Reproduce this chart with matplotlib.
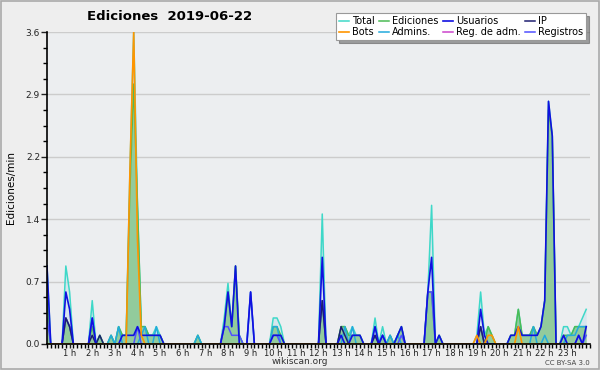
import matplotlib
matplotlib.use("Agg")
import matplotlib.pyplot as plt
import numpy as np
from matplotlib.ticker import MultipleLocator, FixedLocator
from matplotlib.patches import Rectangle

# edits per minute, one value per 10-minute slot (6 per hour, 144 in total)
total = [0.9, 0, 0, 0, 0, 0.9,   0.6, 0, 0, 0, 0, 0,
         0.5, 0, 0.1, 0, 0, 0.1,   0, 0.2, 0.1, 0.1, 2.0, 3.6,
         1.6, 0.2, 0.2, 0.1, 0.1, 0.2,   0.1, 0, 0, 0, 0, 0,
         0, 0, 0, 0, 0.1, 0,   0, 0, 0, 0, 0, 0.3,
         0.7, 0.2, 0.9, 0.1, 0, 0,   0.6, 0, 0, 0, 0, 0,
         0.3, 0.3, 0.2, 0, 0, 0,   0, 0, 0, 0, 0, 0,
         0, 1.5, 0, 0, 0, 0,   0.2, 0.2, 0.1, 0.2, 0.1, 0.1,
         0, 0, 0, 0.3, 0, 0.2,   0, 0.1, 0, 0.1, 0.2, 0,
         0, 0, 0, 0, 0, 0.6,   1.6, 0, 0.1, 0, 0, 0,
         0, 0, 0, 0, 0, 0,   0.1, 0.6, 0.1, 0.2, 0.1, 0,
         0, 0, 0, 0.1, 0.1, 0.4,   0.1, 0.1, 0.1, 0.2, 0.1, 0.2,
         0.5, 2.8, 2.4, 0, 0, 0.2,   0.2, 0.1, 0.2, 0.2, 0.3, 0.4]

ediciones = [0.5, 0, 0, 0, 0, 0.3,   0.2, 0, 0, 0, 0, 0,
             0.2, 0, 0.1, 0, 0, 0.1,   0, 0.2, 0.1, 0.1, 1.8, 3.0,
             1.6, 0.2, 0.2, 0.1, 0.1, 0.1,   0.1, 0, 0, 0, 0, 0,
             0, 0, 0, 0, 0.1, 0,   0, 0, 0, 0, 0, 0.2,
             0.6, 0.2, 0.9, 0.1, 0, 0,   0, 0, 0, 0, 0, 0,
             0.2, 0.2, 0.1, 0, 0, 0,   0, 0, 0, 0, 0, 0,
             0, 0.5, 0, 0, 0, 0,   0.2, 0.2, 0.1, 0.1, 0.1, 0.1,
             0, 0, 0, 0.1, 0, 0.1,   0, 0.1, 0, 0.1, 0.2, 0,
             0, 0, 0, 0, 0, 0.6,   0.6, 0, 0.1, 0, 0, 0,
             0, 0, 0, 0, 0, 0,   0, 0.2, 0, 0.2, 0.1, 0,
             0, 0, 0, 0.1, 0.1, 0.4,   0.1, 0.1, 0.1, 0.2, 0.1, 0.2,
             0.5, 2.7, 2.4, 0, 0, 0.1,   0.1, 0.1, 0.2, 0.2, 0.2, 0.2]

usuarios = [0.9, 0, 0, 0, 0, 0.6,   0.4, 0, 0, 0, 0, 0,
            0.3, 0, 0, 0, 0, 0,   0, 0, 0.1, 0.1, 0.1, 0.1,
            0.2, 0.1, 0.1, 0.1, 0.1, 0.1,   0.1, 0, 0, 0, 0, 0,
            0, 0, 0, 0, 0, 0,   0, 0, 0, 0, 0, 0.2,
            0.6, 0.2, 0.9, 0, 0, 0,   0.6, 0, 0, 0, 0, 0,
            0.1, 0.1, 0.1, 0, 0, 0,   0, 0, 0, 0, 0, 0,
            0, 1.0, 0, 0, 0, 0,   0.1, 0, 0, 0.1, 0.1, 0.1,
            0, 0, 0, 0.2, 0, 0.1,   0, 0, 0, 0.1, 0.2, 0,
            0, 0, 0, 0, 0, 0.6,   1.0, 0, 0.1, 0, 0, 0,
            0, 0, 0, 0, 0, 0,   0, 0.4, 0.1, 0, 0, 0,
            0, 0, 0, 0.1, 0.1, 0.2,   0.1, 0.1, 0.1, 0.1, 0.1, 0.2,
            0.5, 2.8, 2.4, 0, 0, 0.1,   0, 0, 0, 0.1, 0, 0.2]

ip = [0, 0, 0, 0, 0, 0.3,   0.2, 0, 0, 0, 0, 0,
      0.1, 0, 0.1, 0, 0, 0,   0, 0, 0, 0, 0, 0,
      0, 0, 0, 0, 0, 0,   0, 0, 0, 0, 0, 0,
      0, 0, 0, 0, 0, 0,   0, 0, 0, 0, 0, 0,
      0, 0, 0, 0, 0, 0,   0, 0, 0, 0, 0, 0,
      0, 0, 0, 0, 0, 0,   0, 0, 0, 0, 0, 0,
      0, 0.5, 0, 0, 0, 0,   0.2, 0.1, 0, 0, 0, 0,
      0, 0, 0, 0.1, 0, 0,   0, 0, 0, 0, 0, 0,
      0, 0, 0, 0, 0, 0,   0, 0, 0, 0, 0, 0,
      0, 0, 0, 0, 0, 0,   0, 0.2, 0, 0, 0, 0,
      0, 0, 0, 0, 0, 0,   0, 0, 0, 0, 0, 0,
      0, 0, 0, 0, 0, 0,   0, 0, 0, 0, 0, 0]

bots = [0, 0, 0, 0, 0, 0,   0, 0, 0, 0, 0, 0,
        0, 0, 0, 0, 0, 0,   0, 0, 0, 0, 2.0, 3.6,
        1.2, 0.1, 0, 0, 0, 0,   0, 0, 0, 0, 0, 0,
        0, 0, 0, 0, 0, 0,   0, 0, 0, 0, 0, 0,
        0, 0, 0, 0, 0, 0,   0, 0, 0, 0, 0, 0,
        0, 0, 0, 0, 0, 0,   0, 0, 0, 0, 0, 0,
        0, 0, 0, 0, 0, 0,   0, 0, 0, 0, 0, 0,
        0, 0, 0, 0, 0, 0,   0, 0, 0, 0, 0, 0,
        0, 0, 0, 0, 0, 0,   0, 0, 0, 0, 0, 0,
        0, 0, 0, 0, 0, 0,   0.1, 0, 0, 0.1, 0.1, 0,
        0, 0, 0, 0, 0, 0.2,   0, 0, 0, 0, 0, 0,
        0, 0, 0, 0, 0, 0,   0, 0, 0, 0, 0, 0]

admins = [0, 0, 0, 0, 0, 0,   0, 0, 0, 0, 0, 0,
          0, 0, 0, 0, 0, 0.1,   0, 0.2, 0, 0, 0, 0,
          0, 0.1, 0.2, 0, 0, 0.2,   0, 0, 0, 0, 0, 0,
          0, 0, 0, 0, 0.1, 0,   0, 0, 0, 0, 0, 0,
          0, 0, 0, 0, 0, 0,   0, 0, 0, 0, 0, 0,
          0.2, 0.2, 0, 0, 0, 0,   0, 0, 0, 0, 0, 0,
          0, 0, 0, 0, 0, 0,   0, 0.2, 0, 0.2, 0, 0,
          0, 0, 0, 0.2, 0, 0.1,   0, 0.1, 0, 0.1, 0, 0,
          0, 0, 0, 0, 0, 0,   0, 0, 0, 0, 0, 0,
          0, 0, 0, 0, 0, 0,   0, 0, 0, 0, 0, 0,
          0, 0, 0, 0, 0, 0,   0, 0, 0, 0.2, 0, 0,
          0.1, 0, 0, 0, 0, 0,   0.1, 0.1, 0.1, 0.2, 0.2, 0.2]

reg_adm = [0] * 144

registros = [0.3, 0, 0, 0, 0, 0.3,   0.2, 0, 0, 0, 0, 0,
             0.3, 0, 0, 0, 0, 0,   0, 0, 0, 0, 0, 0,
             0.2, 0, 0, 0, 0, 0,   0, 0, 0, 0, 0, 0,
             0, 0, 0, 0, 0, 0,   0, 0, 0, 0, 0, 0.2,
             0.2, 0.1, 0.1, 0.1, 0, 0,   0.6, 0, 0, 0, 0, 0,
             0.1, 0.1, 0, 0, 0, 0,   0, 0, 0, 0, 0, 0,
             0, 0.5, 0, 0, 0, 0,   0, 0, 0, 0, 0, 0,
             0, 0, 0, 0.1, 0, 0.1,   0, 0, 0, 0, 0.1, 0,
             0, 0, 0, 0, 0, 0.6,   0.6, 0, 0, 0, 0, 0,
             0, 0, 0, 0, 0, 0,   0, 0.2, 0, 0, 0, 0,
             0, 0, 0, 0, 0, 0,   0, 0, 0, 0, 0, 0,
             0, 0, 0, 0, 0, 0,   0, 0, 0, 0.1, 0, 0.1]

hour_labels = ["%d h" % h for h in range(1, 24)]
y_ticks = [0.0, 0.72, 1.44, 2.16, 2.88, 3.6]

x = np.arange(len(total)) / 6.0

fig = plt.figure(figsize=(6, 3.7), dpi=100)
fig.patch.set_facecolor("#eeeeee")
fig.patches.append(Rectangle((0.001, 0.002), 0.997, 0.995, transform=fig.transFigure,
                             fill=False, edgecolor="#aaaaaa", linewidth=1.2))
ax = fig.add_axes([0.0783, 0.0703, 0.905, 0.8432])
ax.set_facecolor("#eceef0")

# fills first, then lines
ax.fill_between(x, total, color="#cfe3ee", alpha=0.7, linewidth=0)
ax.fill_between(x, ediciones, color="#8fca98", alpha=0.95, linewidth=0)

l_total, = ax.plot(x, total, color="#3ed8c8", lw=1.1, label="Total")
l_ed, = ax.plot(x, ediciones, color="#4cbb55", lw=1.1, label="Ediciones")
l_adm, = ax.plot(x, admins, color="#22aadd", lw=1.1, label="Admins.")
l_reg, = ax.plot(x, registros, color="#5050ff", lw=1.1, label="Registros")
l_ra, = ax.plot(x, reg_adm, color="#cc44cc", lw=1.1, label="Reg. de adm.")
l_ip, = ax.plot(x, ip, color="#1e1e70", lw=1.1, label="IP")
l_usr, = ax.plot(x, usuarios, color="#1010e0", lw=1.2, label="Usuarios")
l_bots, = ax.plot(x, bots, color="#ff9500", lw=1.2, label="Bots")

ax.set_xlim(0, 24)
ax.set_ylim(0, 3.6)
ax.xaxis.set_major_locator(FixedLocator(range(1, 24)))
ax.set_xticklabels(hour_labels)
ax.xaxis.set_minor_locator(MultipleLocator(1 / 6))
ax.yaxis.set_major_locator(FixedLocator(y_ticks))
ax.set_yticklabels(["%.1f" % v for v in y_ticks])
ax.yaxis.set_minor_locator(MultipleLocator(0.18))
ax.tick_params(axis="both", which="major", labelsize=6.5, length=4, width=1, pad=1, colors="#222222")
ax.tick_params(axis="x", which="major", labelsize=6, length=3, pad=0.5)
ax.tick_params(axis="both", which="minor", length=3, width=1)
ax.grid(axis="y", color="#cccccc", lw=1)
ax.set_axisbelow(True)
for s in ["top", "right"]:
    ax.spines[s].set_visible(False)
ax.spines["left"].set_linewidth(1.2)
ax.spines["bottom"].set_linewidth(1.2)
ax.set_ylabel("Ediciones/min", fontsize=7.5, labelpad=7)

fig.text(0.283, 0.955, "Ediciones  2019-06-22", fontsize=9.5, fontweight="bold", ha="center", va="center")
fig.text(0.5, 0.022, "wikiscan.org", fontsize=6.5, ha="center", va="center", color="#333333")
fig.text(0.983, 0.02, "CC BY-SA 3.0", fontsize=5, ha="right", va="center", color="#444444")

handles = [l_total, l_bots, l_ed, l_adm, l_usr, l_ra, l_ip, l_reg]
leg = fig.legend(handles=handles, labels=[h.get_label() for h in handles], ncol=4,
                 loc="upper right", bbox_to_anchor=(0.985, 0.977), fontsize=7,
                 frameon=True, fancybox=False, shadow=True, handlelength=1.0,
                 handletextpad=0.3, columnspacing=0.5, labelspacing=0.1, borderpad=0.3)
leg.get_frame().set_edgecolor("#999999")
leg.get_frame().set_linewidth(0.8)

fig.savefig("out.png", dpi=100, facecolor=fig.get_facecolor())
